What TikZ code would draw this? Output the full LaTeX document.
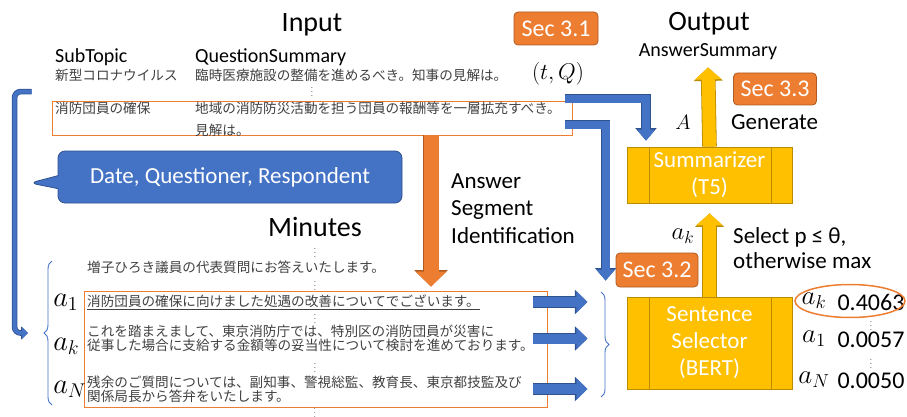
\documentclass[tikz,border=0pt]{standalone}
\usepackage{fontspec}
\setmainfont{Carlito}
\newfontfamily\jpfont{Noto Sans CJK JP}
\usetikzlibrary{arrows.meta,shapes.callouts,decorations.pathreplacing,positioning}

\definecolor{msblue}{HTML}{4472C4}
\definecolor{msblueline}{HTML}{2F528F}
\definecolor{msorange}{HTML}{ED7D31}
\definecolor{msorangeline}{HTML}{AE5A21}
\definecolor{msyellow}{HTML}{FFC000}
\definecolor{msyellowline}{HTML}{BC8C00}
\definecolor{jpgray}{HTML}{404040}

\begin{document}
\begin{tikzpicture}[x=1pt, y=-1pt,
  jp/.style={font=\jpfont\fontsize{13.6}{14}\selectfont, text=jpgray, inner sep=0pt, anchor=west},
  title/.style={font=\fontsize{28}{30}\selectfont, inner sep=0pt, anchor=base},
  head/.style={font=\fontsize{20}{22}\selectfont, inner sep=0pt, anchor=base west},
  midtext/.style={font=\fontsize{23}{26}\selectfont, inner sep=0pt, anchor=base west},
  mathlab/.style={font=\fontsize{20.74}{24}\selectfont, inner sep=0pt},
  bigmath/.style={mathlab, scale=#1, transform shape},
  num/.style={font=\fontsize{24}{26}\selectfont, inner sep=0pt},
  vdot/.style={inner sep=0pt, font=\fontsize{7}{7}\selectfont},
  hlbox/.style={draw=msorange, line width=0.8pt, inner sep=0pt},
  secbox/.style={rounded corners=4pt, fill=msorange, draw=msorangeline, line width=0.8pt,
    text=white, font=\fontsize{24}{26}\selectfont, minimum width=84pt, minimum height=33pt},
  model/.style={fill=msyellow, draw=msyellowline, line width=0.8pt, text=white,
    font=\fontsize{23}{27}\selectfont, align=center, minimum width=165pt,
    path picture={
      \draw[msyellowline, line width=0.8pt]
        ([xshift=22pt]path picture bounding box.north west) -- ([xshift=22pt]path picture bounding box.south west)
        ([xshift=-21pt]path picture bounding box.north east) -- ([xshift=-21pt]path picture bounding box.south east);
    }},
  bluearrow/.style={msblue, line width=8pt, -{Triangle[length=11pt,width=18pt]},
    preaction={draw=msblueline, line width=9.6pt, -{Triangle[length=12.5pt,width=20.5pt]}}},
  sidearrow/.style={msblue, line width=10pt, -{Triangle[length=11pt,width=21pt]},
    preaction={draw=msblueline, line width=11.6pt, -{Triangle[length=12.5pt,width=23.5pt]}}},
  orangearrow/.style={msorange, line width=15pt, -{Triangle[length=15pt,width=30pt]},
    preaction={draw=msorangeline, line width=16.6pt, -{Triangle[length=16.5pt,width=32.5pt]}}},
  yellowarrow/.style={msyellow, line width=13pt, -{Triangle[length=12pt,width=26pt]},
    preaction={draw=msyellowline, line width=14.6pt, -{Triangle[length=13.5pt,width=28.5pt]}}},
  backarrow/.style={msblue, line width=4pt, rounded corners=6pt, -{Triangle[length=6pt,width=11pt]},
    preaction={draw=msblueline, line width=5.6pt, -{Triangle[length=7pt,width=13pt]}}},
  thinbrace/.style={draw=msblue, line width=0.9pt, decorate, decoration={brace, amplitude=8pt}},
  callout/.style={rectangle callout, fill=msblue, draw=msblueline, line width=0.8pt,
    rounded corners=7pt, text=white, font=\fontsize{23}{26}\selectfont,
    minimum width=344pt, minimum height=52pt, callout pointer width=13pt}
]
\useasboundingbox (0,0) rectangle (907,417);

% Input
\node[title] (input) at (312,32) {Input};
\node[head] (subtopic) at (55,63) {SubTopic};
\node[head] (qsum) at (195,63) {QuestionSummary};
\node[jp] (st1) at (55,75.5) {新型コロナウイルス};
\node[jp] (qs1) at (195,75.5) {臨時医療施設の整備を進めるべき。知事の見解は。};
\node[vdot] (d0) at (312,89) {$\vdots$};
\node[hlbox, minimum width=520pt, minimum height=34pt] (qbox) at (312,118) {};
\node[jp] (st2) at (55,108) {消防団員の確保};
\node[jp] (qs2) at (195,108) {地域の消防防災活動を担う団員の報酬等を一層拡充すべき。};
\node[jp] (qs2b) at (195,130) {見解は。};

\node[secbox] (sec31) at (556,28.5) {Sec 3.1};
\node[bigmath=1.1] (tq) at (558,74) {$(t,Q)$};

% Output
\node[title] (output) at (709,31) {Output};
\node[head, anchor=base] (anssum) at (708,57) {AnswerSummary};
\node[secbox, minimum width=83pt, minimum height=32pt] (sec33) at (775,89) {Sec 3.3};
\node[mathlab] (alab) at (683,122) {$A$};
\node[midtext] (gen) at (731,130) {Generate};
\node[model, minimum height=56pt] (sum) at (709.5,175) {Summarizer\\(T5)};
\node[bigmath=1.2] (aklab) at (683,236) {$a_k$};
\node[midtext] (sel1) at (733,243) {Select p ≤ θ,};
\node[midtext] (sel2) at (733,268) {otherwise max};
\node[secbox, minimum width=82pt, minimum height=34pt] (sec32) at (657,270) {Sec 3.2};
\node[model, minimum height=92pt] (sel) at (709.5,343) {Sentence\\Selector\\(BERT)};

% scores
\node[bigmath=1.3] (rk) at (814,301) {$a_k$};
\node[num] (pk) at (871,302) {0.4063};
\node[vdot] (d6) at (871,323) {$\vdots$};
\node[bigmath=1.3] (r1) at (814,339) {$a_1$};
\node[num] (p1) at (871,340) {0.0057};
\node[vdot] (d7) at (871,361) {$\vdots$};
\node[bigmath=1.3] (rn) at (814,380) {$a_N$};
\node[num] (pn) at (871,381) {0.0050};
\draw[msorange, line width=1.5pt] (850,301) ellipse [x radius=55, y radius=16.5];

% Answer segment identification
\node[midtext, anchor=north west, align=left, font=\fontsize{23}{27.5}\selectfont] (asi)
  at (451,173.5) {Answer\\Segment\\Identification};
\node[callout, callout absolute pointer={(30,183)}] (dqr) at (230,177) {Date, Questioner, Respondent};

% Minutes
\node[title] (minutes) at (315,236) {Minutes};
\node[vdot] (d1) at (315,250) {$\vdots$};
\node[jp] (m0) at (87,267) {増子ひろき議員の代表質問にお答えいたします。};
\node[vdot] (d2) at (315,283) {$\vdots$};
\node[hlbox, minimum width=463pt, minimum height=116pt] (mbox) at (315.5,349) {};
\node[jp] (m1) at (87,302) {\underline{消防団員の確保に向けました処遇の改善についてでございます。}};
\node[vdot] (d3) at (315,316) {$\vdots$};
\node[jp, align=left] (mk) at (87,338.5) {これを踏まえまして、東京消防庁では、特別区の消防団員が災害に\\従事した場合に支給する金額等の妥当性について検討を進めております。};
\node[vdot] (d4) at (315,365) {$\vdots$};
\node[jp, align=left] (mn) at (87,389) {残余のご質問については、副知事、警視総監、教育長、東京都技監及び\\関係局長から答弁をいたします。};
\node[vdot, font=\fontsize{6}{6}\selectfont] (d5) at (315,410.5) {$\vdots$};

\node[bigmath=1.38, anchor=west] (a1) at (53,302) {$a_1$};
\node[bigmath=1.38, anchor=west] (ak) at (53,346) {$a_k$};
\node[bigmath=1.38, anchor=west] (an) at (53,389) {$a_N$};

% braces
\coordinate (ltip) at (40,333);
\draw[thinbrace] (52,405) -- (52,261);
\draw[thinbrace] (601,292) -- (601,397);

% arrows
\draw[backarrow] ([xshift=-20pt,yshift=9pt]qbox.north west) -- ++(-17,0) |- ([xshift=-12pt]ltip);
\draw[orangearrow] ([xshift=119pt]qbox.south) -- ([xshift=115.5pt,yshift=4pt]mbox.north);
\draw[bluearrow] ([xshift=-7pt,yshift=2pt]qbox.north east) -| ([xshift=-63.5pt,yshift=6pt]sum.north);
\draw[bluearrow] ([xshift=-7pt,yshift=-24pt]qbox.north east) -| ([xshift=-21pt,yshift=16pt]sel.north west);
\draw[yellowarrow] (sum.north) -- ([yshift=-7pt]anssum.south);
\draw[yellowarrow] (sel.north) -- ([yshift=-10pt]sum.south);
\draw[sidearrow] ([xshift=-14pt]mbox.east |- m1.center) -- ([xshift=40pt]mbox.east |- m1.center);
\draw[sidearrow] ([xshift=-14pt]mbox.east |- mk.center) -- ([xshift=40pt]mbox.east |- mk.center);
\draw[sidearrow] ([xshift=-14pt]mbox.east |- mn.center) -- ([xshift=40pt]mbox.east |- mn.center);

\end{tikzpicture}
\end{document}
